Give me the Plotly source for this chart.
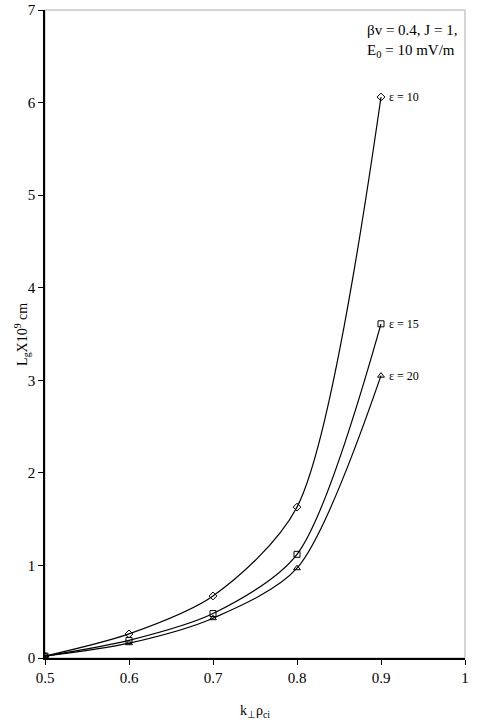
import plotly.graph_objects as go

k = [0.5, 0.6, 0.7, 0.8, 0.9]
eps10 = [0.02, 0.26, 0.67, 1.63, 6.06]
eps15 = [0.02, 0.19, 0.48, 1.12, 3.61]
eps20 = [0.02, 0.16, 0.43, 0.97, 3.05]
labels = ["ε = 10", "ε = 15", "ε = 20"]
symbols = ["diamond-open", "square-open", "triangle-up-open"]

FONT = "Liberation Serif, Times New Roman, serif"

fig = go.Figure()
for name, ys, sym in zip(labels, [eps10, eps15, eps20], symbols):
    fig.add_trace(go.Scatter(
        x=k, y=ys, mode="lines+markers", name=name,
        line=dict(color="black", width=1.2, shape="spline", smoothing=0.8),
        marker=dict(symbol=sym, size=6, color="black", line=dict(width=1, color="black")),
        showlegend=False))
    fig.add_annotation(x=k[-1], y=ys[-1], text=name,
                       xref="x", yref="y", showarrow=False, xanchor="left", xshift=6,
                       font=dict(family=FONT, size=12, color="black"))

fig.add_shape(type="rect", xref="paper", yref="paper", x0=0, y0=0, x1=1, y1=1,
              line=dict(color="#c8c8c8", width=1.5), layer="below")

fig.add_annotation(x=0.985, y=0.985, xref="paper", yref="paper", xanchor="right", yanchor="top",
                   showarrow=False, align="left",
                   text="βv = 0.4, J = 1,<br>E<sub>0</sub> = 10 mV/m",
                   font=dict(family=FONT, size=15, color="black"))

# y-axis title placed as rotated text
fig.add_annotation(x=-0.055, y=0.5, xref="paper", yref="paper", xanchor="center", yanchor="middle",
                   showarrow=False, textangle=-90,
                   text="L<sub>g</sub>X10<sup>9</sup> cm",
                   font=dict(family=FONT, size=14, color="black"))

fig.update_layout(
    width=478, height=720,
    margin=dict(l=45, r=13, t=10, b=62, autoexpand=False),
    plot_bgcolor="white", paper_bgcolor="white",
    font=dict(family=FONT, size=14, color="black"),
    xaxis=dict(range=[0.5, 1.0], tickvals=[0.5, 0.6, 0.7, 0.8, 0.9, 1.0],
               ticktext=["0.5", "0.6", "0.7", "0.8", "0.9", "1"],
               showgrid=False, zeroline=False, showline=True, linecolor="black", linewidth=1.5,
               ticks="outside", ticklen=5, tickcolor="black", tickfont=dict(size=15),
               title=dict(text="k<sub>⊥</sub>ρ<sub>ci</sub>", font=dict(size=14), standoff=22)),
    yaxis=dict(range=[0, 7], dtick=1, showgrid=False, zeroline=False, showline=True,
               linecolor="black", linewidth=1.5, ticks="outside", ticklen=5, tickcolor="black",
               tickfont=dict(size=15)),
)

fig.write_html("out.html")
